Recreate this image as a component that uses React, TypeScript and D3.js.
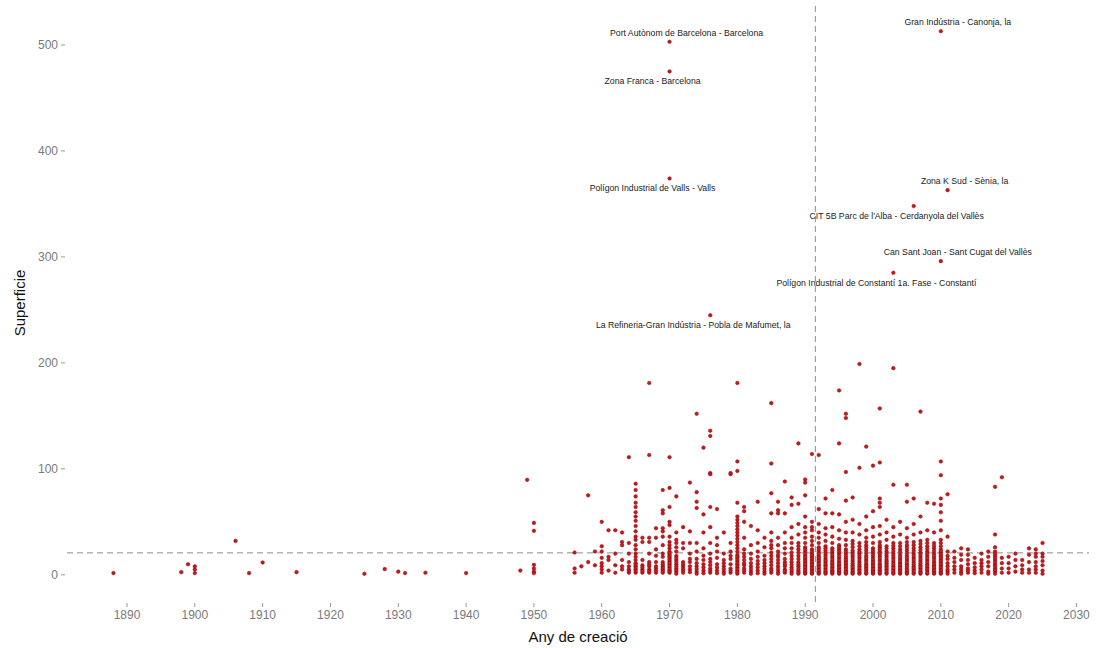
import React from "react";
import * as d3 from "d3";

// ---- data: [any, superfície] ----
const early: [number, number][] = [
  [1888, 1.6], [1898, 2.5], [1899, 10], [1900, 8], [1900, 5], [1900, 1.6],
  [1906, 32], [1908, 1.6], [1910, 11.6], [1915, 2.5], [1925, 1], [1928, 5.4],
  [1930, 3], [1931, 1.6], [1934, 2], [1940, 1.6], [1948, 4], [1949, 89.6],
  [1950, 49], [1950, 41.5], [1950, 9.4], [1950, 6], [1950, 3], [1950, 1.6],
  [1956, 21], [1956, 6], [1956, 2], [1957, 8], [1958, 75], [1958, 12], [1959, 22], [1959, 9],
];

const sixties: [number, number][] = [
  [1960, 50], [1960, 27], [1960, 22], [1960, 16], [1960, 11], [1960, 8], [1960, 5], [1960, 2],
  [1961, 42], [1961, 17], [1961, 14], [1961, 4],
  [1962, 42], [1962, 20], [1962, 9], [1962, 2],
  [1963, 40], [1963, 31], [1963, 28], [1963, 14], [1963, 8], [1963, 5],
  [1964, 111], [1964, 30], [1964, 20], [1964, 8], [1964, 5], [1964, 2],
  [1965, 86], [1965, 80], [1965, 74], [1965, 68], [1965, 64], [1965, 59], [1965, 55], [1965, 51],
  [1965, 46], [1965, 41], [1965, 36], [1965, 33], [1965, 28], [1965, 24], [1965, 20], [1965, 17],
  [1965, 14], [1965, 11], [1965, 8], [1965, 5], [1965, 2],
  [1966, 35], [1966, 31], [1966, 14], [1966, 9], [1966, 5], [1966, 2],
  [1967, 181], [1967, 113], [1967, 35], [1967, 31], [1967, 20], [1967, 12], [1967, 8], [1967, 5], [1967, 2],
  [1968, 44], [1968, 35], [1968, 24], [1968, 18], [1968, 12], [1968, 6], [1968, 2],
  [1969, 80], [1969, 61], [1969, 58], [1969, 44], [1969, 41], [1969, 36], [1969, 28], [1969, 20],
  [1969, 17], [1969, 12], [1969, 8], [1969, 5], [1969, 2],
];

const seventies: [number, number][] = [
  [1970, 503], [1970, 475], [1970, 374], [1970, 111], [1970, 82], [1970, 64], [1970, 50], [1970, 47],
  [1970, 36], [1970, 31], [1970, 28], [1970, 25], [1970, 22], [1970, 19], [1970, 16], [1970, 13],
  [1970, 10], [1970, 7], [1970, 4], [1970, 2],
  [1971, 74], [1971, 40], [1971, 33], [1971, 30], [1971, 26], [1971, 22], [1971, 18], [1971, 14],
  [1971, 10], [1971, 6], [1971, 3],
  [1972, 45], [1972, 30], [1972, 25], [1972, 12], [1972, 8], [1972, 4],
  [1973, 87], [1973, 41], [1973, 30], [1973, 20], [1973, 12], [1973, 5],
  [1974, 152], [1974, 78], [1974, 69], [1974, 63], [1974, 30], [1974, 22], [1974, 15], [1974, 8], [1974, 3],
  [1975, 120], [1975, 57], [1975, 40], [1975, 25], [1975, 18], [1975, 10], [1975, 4],
  [1976, 245], [1976, 136], [1976, 131], [1976, 96], [1976, 95], [1976, 64], [1976, 45], [1976, 30],
  [1976, 20], [1976, 12], [1976, 6], [1976, 2],
  [1977, 62], [1977, 35], [1977, 28], [1977, 22], [1977, 10], [1977, 4],
  [1978, 40], [1978, 20], [1978, 14], [1978, 8], [1978, 3],
  [1979, 96], [1979, 95], [1979, 30], [1979, 22], [1979, 15], [1979, 6], [1979, 2],
];

const eighties: [number, number][] = [
  [1980, 181], [1980, 107], [1980, 98], [1980, 68], [1980, 55], [1980, 52], [1980, 49], [1980, 46],
  [1980, 43], [1980, 40], [1980, 37], [1980, 34], [1980, 31], [1980, 28], [1980, 25], [1980, 22],
  [1980, 19], [1980, 16], [1980, 13], [1980, 10], [1980, 7], [1980, 4], [1980, 1],
  [1981, 64], [1981, 60], [1981, 50], [1981, 35], [1981, 24], [1981, 14], [1981, 6], [1981, 2],
  [1982, 46], [1982, 28], [1982, 15], [1982, 8], [1982, 3],
  [1983, 69], [1983, 42], [1983, 30], [1983, 22], [1983, 10], [1983, 4],
  [1984, 35], [1984, 26], [1984, 18], [1984, 8], [1984, 3],
  [1985, 162], [1985, 105], [1985, 77], [1985, 58], [1985, 40], [1985, 32], [1985, 25], [1985, 18],
  [1985, 12], [1985, 6], [1985, 2],
  [1986, 69], [1986, 61], [1986, 58], [1986, 35], [1986, 28], [1986, 22], [1986, 14], [1986, 8], [1986, 3],
  [1987, 88], [1987, 58], [1987, 40], [1987, 30], [1987, 20], [1987, 12], [1987, 5], [1987, 2],
  [1988, 73], [1988, 66], [1988, 45], [1988, 35], [1988, 25], [1988, 18], [1988, 12], [1988, 7], [1988, 3],
  [1989, 124], [1989, 67], [1989, 48], [1989, 38], [1989, 30], [1989, 24], [1989, 18], [1989, 12],
  [1989, 8], [1989, 4], [1989, 1],
];

const nineties: [number, number][] = [
  [1990, 90], [1990, 87], [1990, 75], [1990, 55], [1990, 45], [1990, 40], [1990, 35], [1990, 30],
  [1990, 26], [1990, 22], [1990, 18], [1990, 15], [1990, 12], [1990, 9], [1990, 6], [1990, 3], [1990, 1],
  [1991, 114], [1991, 50], [1991, 45], [1991, 42], [1991, 36], [1991, 32], [1991, 28], [1991, 24],
  [1991, 20], [1991, 17], [1991, 14], [1991, 11], [1991, 8], [1991, 5], [1991, 2],
  [1992, 113], [1992, 62], [1992, 48], [1992, 40], [1992, 35], [1992, 30], [1992, 26], [1992, 22],
  [1992, 18], [1992, 15], [1992, 12], [1992, 9], [1992, 6], [1992, 3], [1992, 1],
  [1993, 72], [1993, 58], [1993, 44], [1993, 38], [1993, 32], [1993, 27], [1993, 23], [1993, 19],
  [1993, 15], [1993, 12], [1993, 9], [1993, 6], [1993, 3], [1993, 1],
  [1994, 80], [1994, 58], [1994, 45], [1994, 36], [1994, 30], [1994, 25], [1994, 21], [1994, 17],
  [1994, 13], [1994, 10], [1994, 7], [1994, 4], [1994, 2],
  [1995, 174], [1995, 124], [1995, 57], [1995, 42], [1995, 34], [1995, 28], [1995, 24], [1995, 20],
  [1995, 16], [1995, 12], [1995, 9], [1995, 6], [1995, 3], [1995, 1],
  [1996, 152], [1996, 148], [1996, 97], [1996, 70], [1996, 50], [1996, 40], [1996, 33], [1996, 28],
  [1996, 24], [1996, 20], [1996, 16], [1996, 13], [1996, 10], [1996, 7], [1996, 4], [1996, 2],
  [1997, 73], [1997, 52], [1997, 40], [1997, 32], [1997, 26], [1997, 21], [1997, 17], [1997, 13],
  [1997, 9], [1997, 6], [1997, 3], [1997, 1],
  [1998, 199], [1998, 101], [1998, 48], [1998, 38], [1998, 30], [1998, 24], [1998, 20], [1998, 16],
  [1998, 12], [1998, 8], [1998, 5], [1998, 2],
  [1999, 121], [1999, 55], [1999, 42], [1999, 35], [1999, 28], [1999, 23], [1999, 18], [1999, 14],
  [1999, 10], [1999, 7], [1999, 4], [1999, 1],
];

const twoThousands: [number, number][] = [
  [2000, 103], [2000, 60], [2000, 45], [2000, 36], [2000, 30], [2000, 25], [2000, 21], [2000, 17],
  [2000, 13], [2000, 10], [2000, 7], [2000, 4], [2000, 2],
  [2001, 157], [2001, 106], [2001, 72], [2001, 68], [2001, 64], [2001, 46], [2001, 38], [2001, 31],
  [2001, 26], [2001, 22], [2001, 18], [2001, 14], [2001, 10], [2001, 7], [2001, 4], [2001, 1],
  [2002, 52], [2002, 40], [2002, 33], [2002, 27], [2002, 22], [2002, 18], [2002, 14], [2002, 11],
  [2002, 8], [2002, 5], [2002, 2],
  [2003, 285], [2003, 195], [2003, 85], [2003, 45], [2003, 36], [2003, 30], [2003, 25], [2003, 20],
  [2003, 16], [2003, 12], [2003, 8], [2003, 5], [2003, 2],
  [2004, 50], [2004, 38], [2004, 30], [2004, 24], [2004, 19], [2004, 15], [2004, 11], [2004, 8],
  [2004, 5], [2004, 2],
  [2005, 85], [2005, 69], [2005, 44], [2005, 35], [2005, 28], [2005, 23], [2005, 18], [2005, 14],
  [2005, 10], [2005, 6], [2005, 3], [2005, 1],
  [2006, 348], [2006, 72], [2006, 48], [2006, 38], [2006, 31], [2006, 25], [2006, 20], [2006, 16],
  [2006, 12], [2006, 8], [2006, 5], [2006, 2],
  [2007, 154], [2007, 55], [2007, 40], [2007, 32], [2007, 26], [2007, 21], [2007, 17], [2007, 13],
  [2007, 9], [2007, 6], [2007, 3], [2007, 1],
  [2008, 68], [2008, 42], [2008, 33], [2008, 27], [2008, 22], [2008, 18], [2008, 14], [2008, 10],
  [2008, 7], [2008, 4], [2008, 1],
  [2009, 67], [2009, 40], [2009, 30], [2009, 25], [2009, 20], [2009, 16], [2009, 12], [2009, 9],
  [2009, 6], [2009, 3], [2009, 1],
];

const recent: [number, number][] = [
  [2010, 513], [2010, 296], [2010, 107], [2010, 94], [2010, 72], [2010, 66], [2010, 59], [2010, 51],
  [2010, 42], [2010, 33], [2010, 30], [2010, 27], [2010, 24], [2010, 21], [2010, 18], [2010, 15],
  [2010, 12], [2010, 9], [2010, 6], [2010, 3], [2010, 1],
  [2011, 363], [2011, 76], [2011, 36], [2011, 22], [2011, 15], [2011, 8], [2011, 3],
  [2012, 22], [2012, 12], [2012, 5],
  [2013, 25], [2013, 14], [2013, 8], [2013, 3],
  [2014, 24], [2014, 14], [2014, 6], [2014, 2],
  [2015, 16], [2015, 11], [2015, 4],
  [2016, 11], [2016, 8], [2016, 2],
  [2017, 22], [2017, 17], [2017, 8], [2017, 3],
  [2018, 83], [2018, 38], [2018, 26], [2018, 22], [2018, 18], [2018, 14], [2018, 10], [2018, 6], [2018, 3],
  [2019, 92], [2019, 11], [2019, 6],
  [2020, 17], [2020, 2],
  [2021, 20], [2021, 8],
  [2022, 5], [2022, 2],
  [2023, 25], [2023, 5],
  [2024, 24], [2024, 20], [2024, 17], [2024, 12], [2024, 5],
  [2025, 30], [2025, 20], [2025, 17], [2025, 9], [2025, 4],
];

// extra small parks that fill the dense low columns
const lowSixtiesSeventies: [number, number][] = [
  [1964, 12], [1964, 3.5], [1965, 3.5], [1965, 6.5], [1965, 9.5], [1966, 3.5], [1966, 7], [1967, 3.5], [1967, 10],
  [1968, 4], [1968, 8], [1969, 3.5], [1969, 10], [1969, 6.5], [1970, 3], [1970, 5.5], [1970, 8.5], [1970, 11.5],
  [1970, 14.5], [1970, 17.5], [1970, 20.5], [1971, 4.5], [1971, 8], [1971, 12], [1971, 16], [1971, 1],
  [1972, 2], [1972, 6], [1972, 10], [1973, 2.5], [1973, 8], [1973, 15], [1974, 1], [1974, 5.5], [1974, 11],
  [1975, 1.5], [1975, 7], [1975, 14], [1976, 4], [1976, 9], [1976, 15], [1977, 1.5], [1977, 7], [1977, 16],
  [1978, 1], [1978, 5.5], [1978, 11], [1979, 4], [1979, 10], [1979, 18],
];

const lowEighties: [number, number][] = [
  [1980, 2.5], [1980, 5.5], [1980, 8.5], [1980, 11.5], [1980, 14.5], [1980, 17.5], [1981, 4], [1981, 9], [1981, 11],
  [1981, 17], [1981, 20], [1982, 1], [1982, 5.5], [1982, 11], [1982, 20], [1983, 1.5], [1983, 7], [1983, 13], [1983, 17],
  [1984, 1], [1984, 5.5], [1984, 11], [1984, 14], [1985, 4], [1985, 9], [1985, 15], [1985, 21], [1985, 28],
  [1986, 1], [1986, 5.5], [1986, 11], [1986, 17], [1986, 19], [1987, 3.5], [1987, 8], [1987, 10], [1987, 15], [1987, 25],
  [1988, 1], [1988, 5], [1988, 9.5], [1988, 15], [1988, 21], [1988, 30], [1989, 2.5], [1989, 6], [1989, 10],
  [1989, 15], [1989, 21], [1989, 27],
];

const lowNineties: [number, number][] = [
  [1990, 2], [1990, 4.5], [1990, 7.5], [1990, 10.5], [1990, 13.5], [1990, 16.5], [1990, 20], [1990, 24],
  [1991, 1], [1991, 3.5], [1991, 6.5], [1991, 9.5], [1991, 12.5], [1991, 15.5], [1991, 18.5], [1991, 22],
  [1992, 2], [1992, 4.5], [1992, 7.5], [1992, 10.5], [1992, 13.5], [1992, 16.5], [1992, 20], [1992, 24],
  [1993, 2], [1993, 4.5], [1993, 7.5], [1993, 10.5], [1993, 13.5], [1993, 17], [1993, 21], [1993, 25],
  [1994, 1], [1994, 3], [1994, 5.5], [1994, 8.5], [1994, 11.5], [1994, 15], [1994, 19], [1994, 23],
  [1995, 2], [1995, 4.5], [1995, 7.5], [1995, 10.5], [1995, 14], [1995, 18], [1995, 22], [1995, 26],
  [1996, 1], [1996, 3], [1996, 5.5], [1996, 8.5], [1996, 11.5], [1996, 14.5], [1996, 18], [1996, 22],
  [1997, 2], [1997, 4.5], [1997, 7.5], [1997, 11], [1997, 15], [1997, 19], [1997, 23], [1997, 29],
  [1998, 1], [1998, 3.5], [1998, 6.5], [1998, 10], [1998, 14], [1998, 18], [1998, 22], [1998, 27],
  [1999, 2], [1999, 5.5], [1999, 8.5], [1999, 12], [1999, 16], [1999, 20.5], [1999, 25.5], [1999, 31],
];

const lowTwoThousands: [number, number][] = [
  [2000, 1], [2000, 3], [2000, 5.5], [2000, 8.5], [2000, 11.5], [2000, 15], [2000, 19], [2000, 23],
  [2001, 2.5], [2001, 5.5], [2001, 8.5], [2001, 12], [2001, 16], [2001, 20], [2001, 24], [2001, 28],
  [2002, 1], [2002, 3.5], [2002, 6.5], [2002, 9.5], [2002, 12.5], [2002, 16], [2002, 20], [2002, 24.5],
  [2003, 1], [2003, 3.5], [2003, 6.5], [2003, 10], [2003, 14], [2003, 18], [2003, 22.5], [2003, 27.5],
  [2004, 1], [2004, 3.5], [2004, 6.5], [2004, 9.5], [2004, 13], [2004, 17], [2004, 21.5], [2004, 27],
  [2005, 2], [2005, 4.5], [2005, 8], [2005, 12], [2005, 16], [2005, 20.5], [2005, 25.5], [2005, 31],
  [2006, 1], [2006, 3.5], [2006, 6.5], [2006, 10], [2006, 14], [2006, 18], [2006, 22.5], [2006, 28],
  [2007, 2], [2007, 4.5], [2007, 7.5], [2007, 11], [2007, 15], [2007, 19], [2007, 23.5], [2007, 29],
  [2008, 2], [2008, 5.5], [2008, 8.5], [2008, 12], [2008, 16], [2008, 20], [2008, 24.5], [2008, 30],
  [2009, 2], [2009, 4.5], [2009, 7.5], [2009, 10.5], [2009, 14], [2009, 18], [2009, 22.5], [2009, 27.5],
  [2010, 2], [2010, 4.5], [2010, 7.5], [2010, 10.5], [2010, 13.5], [2010, 16.5], [2010, 19.5], [2010, 22.5],
  [2011, 1], [2011, 5], [2011, 11], [2011, 18], [2012, 2], [2012, 8], [2012, 16], [2013, 1], [2013, 5.5], [2013, 19],
  [2014, 4], [2014, 10], [2014, 19], [2015, 1.5], [2015, 7], [2016, 5], [2016, 14], [2016, 20], [2017, 1], [2017, 12],
  [2018, 1], [2018, 4.5], [2018, 8], [2018, 12], [2018, 16], [2018, 20], [2019, 2], [2019, 16], [2020, 6], [2020, 11],
  [2021, 3], [2021, 14], [2022, 9], [2022, 14], [2023, 2], [2023, 12], [2023, 19], [2024, 2], [2024, 8], [2025, 1], [2025, 13],
];

// labelled outliers: [any, superfície, nom, side]
const labels: [number, number, string, "up" | "down"][] = [
  [1970, 503, "Port Autònom de Barcelona - Barcelona", "up"],
  [1970, 475, "Zona Franca - Barcelona", "down"],
  [2010, 513, "Gran Indústria - Canonja, la", "up"],
  [1970, 374, "Polígon Industrial de Valls - Valls", "down"],
  [2011, 363, "Zona K Sud - Sènia, la", "up"],
  [2006, 348, "CIT 5B Parc de l'Alba - Cerdanyola del Vallès", "down"],
  [2010, 296, "Can Sant Joan - Sant Cugat del Vallès", "up"],
  [2003, 285, "Polígon Industrial de Constantí 1a. Fase - Constantí", "down"],
  [1976, 245, "La Refineria-Gran Indústria - Pobla de Mafumet, la", "down"],
];

const xTicks = [1890, 1900, 1910, 1920, 1930, 1940, 1950, 1960, 1970, 1980, 1990, 2000, 2010, 2020, 2030];
const yTicks = [0, 100, 200, 300, 400, 500];
const meanYear = 1991.5;
const refArea = 20.7;

const allPoints = [
  ...early, ...sixties, ...seventies, ...eighties, ...nineties, ...twoThousands, ...recent,
  ...lowSixtiesSeventies, ...lowEighties, ...lowNineties, ...lowTwoThousands,
];

export default function App() {
  const W = 1100, H = 648;
  const xMin = 1888, xMax = 2025, yMin = 0, yMax = 513;
  const xPad = (xMax - xMin) * 0.05, yPad = (yMax - yMin) * 0.05;
  const x = d3.scaleLinear().domain([xMin - xPad, xMax + xPad]).range([67, 1089]);
  const y = d3.scaleLinear().domain([yMin - yPad, yMax + yPad]).range([602, 4]);
  const font = "'Liberation Sans', Arial, sans-serif";
  const [x0, x1] = x.range();
  const [yb, yt] = y.range();

  return (
    <svg width={W} height={H} style={{ position: "absolute", left: 0, top: 0, background: "#fff" }} fontFamily={font}>
      {/* reference lines */}
      <line x1={x0} x2={x1} y1={y(refArea)} y2={y(refArea)} stroke="#8c8c8c" strokeWidth={1} strokeDasharray="6,4" />
      <line x1={x(meanYear)} x2={x(meanYear)} y1={yb} y2={yt} stroke="#8c8c8c" strokeWidth={1} strokeDasharray="6,4" />

      {/* points */}
      <g>
        {allPoints.map((d, i) => (
          <circle key={i} cx={x(d[0])} cy={y(d[1])} r={1.8} fill="#c81818" stroke="#8b0a14" strokeWidth={0.5} />
        ))}
      </g>

      {/* labels */}
      <g fontSize={8.7} fill="#222" textAnchor="middle">
        {labels.map((l, i) => (
          <text key={i} x={x(l[0]) + (l[3] === "up" ? 17 : -17)} y={y(l[1]) + (l[3] === "up" ? -9 : 10)} dominantBaseline="central">
            {l[2]}
          </text>
        ))}
      </g>

      {/* y axis */}
      <g>
        {yTicks.map((t) => (
          <g key={t}>
            <line x1={61} x2={65} y1={y(t)} y2={y(t)} stroke="#999" strokeWidth={1} />
            <text x={58} y={y(t)} textAnchor="end" dominantBaseline="central" fontSize={12} fill="#7a7a7a">{t}</text>
          </g>
        ))}
      </g>

      {/* x axis */}
      <g>
        {xTicks.map((t) => (
          <g key={t}>
            <line x1={x(t)} x2={x(t)} y1={603} y2={607} stroke="#999" strokeWidth={1} />
            <text x={x(t)} y={615} textAnchor="middle" dominantBaseline="central" fontSize={12} fill="#7a7a7a">{t}</text>
          </g>
        ))}
      </g>

      {/* axis titles */}
      <text x={(x0 + x1) / 2} y={636} textAnchor="middle" dominantBaseline="central" fontSize={15} fill="#111">Any de creació</text>
      <text transform={`translate(19,${(yb + yt) / 2}) rotate(-90)`} textAnchor="middle" dominantBaseline="central" fontSize={15} fill="#111">Superficie</text>
    </svg>
  );
}
